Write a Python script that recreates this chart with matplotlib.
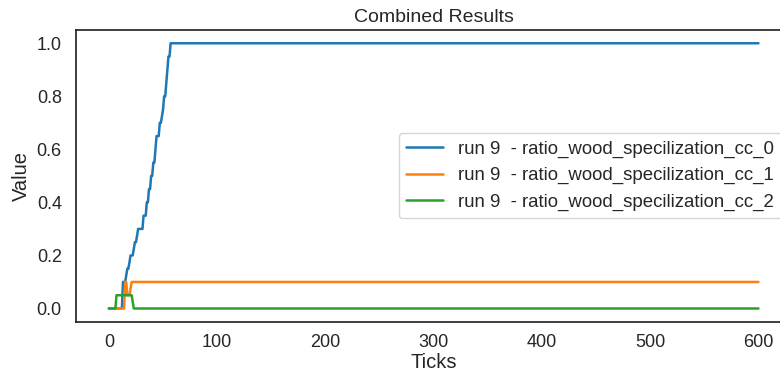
import matplotlib
matplotlib.use("Agg")
import matplotlib.pyplot as plt
import seaborn as sns

# change points (tick, ratio)
blue_ticks = [0, 12, 13, 15, 17, 18, 20, 22, 24, 25, 27, 31, 32, 34, 35, 36, 37, 38,
              39, 40, 41, 42, 43, 44, 46, 47, 48, 50, 51, 52, 54, 55, 56, 57, 600]
blue_vals = [0.0, 0.0, 0.1, 0.1, 0.15, 0.15, 0.2, 0.2, 0.25, 0.25, 0.3, 0.3, 0.35, 0.35,
             0.4, 0.4, 0.45, 0.45, 0.5, 0.5, 0.55, 0.55, 0.6, 0.65, 0.65, 0.7, 0.7, 0.75,
             0.8, 0.8, 0.9, 0.95, 0.95, 1.0, 1.0]

orange_ticks = [0, 14, 15, 16, 17, 19, 21, 600]
orange_vals = [0.0, 0.0, 0.1, 0.1, 0.05, 0.05, 0.1, 0.1]

green_ticks = [0, 6, 7, 21, 23, 600]
green_vals = [0.0, 0.0, 0.05, 0.05, 0.0, 0.0]

labels = ["run 9  - ratio_wood_specilization_cc_0",
          "run 9  - ratio_wood_specilization_cc_1",
          "run 9  - ratio_wood_specilization_cc_2"]

sns.set_style("white")
plt.rcParams["font.family"] = ["Liberation Sans", "DejaVu Sans"]
plt.rcParams["xtick.labelsize"] = 13
plt.rcParams["ytick.labelsize"] = 13
plt.rcParams["xtick.major.size"] = 0
plt.rcParams["ytick.major.size"] = 0
plt.rcParams["xtick.major.pad"] = 9
plt.rcParams["ytick.major.pad"] = 10.5
plt.rcParams["axes.labelsize"] = 14.5
plt.rcParams["axes.titlesize"] = 14
plt.rcParams["legend.fontsize"] = 13.4
plt.rcParams["lines.linewidth"] = 1.8
plt.rcParams["axes.linewidth"] = 1.25

fig, ax = plt.subplots(figsize=(7.8, 3.75), dpi=100)
# the original picture is cut off on the right, past the right spine
fig.subplots_adjust(left=0.098, right=1.014, top=0.92, bottom=0.142)

ax.plot(blue_ticks, blue_vals, label=labels[0])
ax.plot(orange_ticks, orange_vals, label=labels[1])
ax.plot(green_ticks, green_vals, label=labels[2])

ax.set_title("Combined Results")
ax.set_xlabel("Ticks", labelpad=1)
ax.set_ylabel("Value")
ax.legend(loc="center right")

plt.savefig("out.png")
